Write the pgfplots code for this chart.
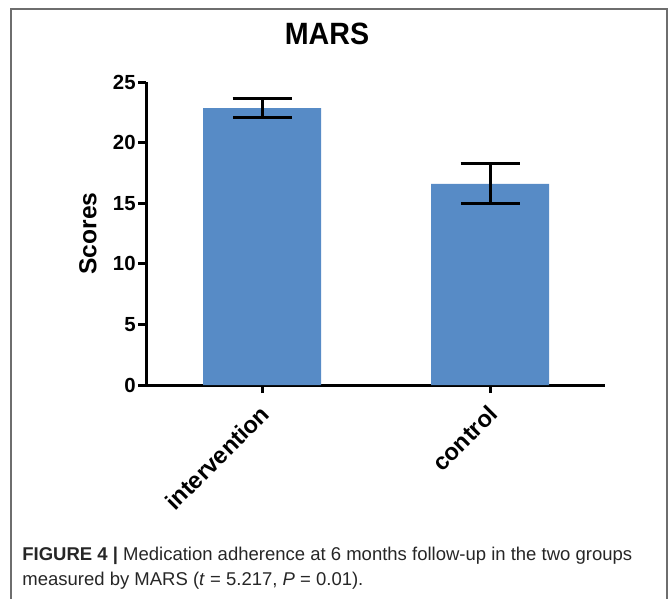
\documentclass[border=0pt]{standalone}
\usepackage{pgfplots}
\pgfplotsset{compat=1.18}
\usepackage{fontspec}
\setmainfont{Liberation Sans}
\newfontfamily\titlefont[FakeStretch=0.93]{Liberation Sans}
\definecolor{barblue}{RGB}{87,139,198}
\definecolor{framegray}{RGB}{110,110,110}
\begin{document}
\begin{tikzpicture}
\path[use as bounding box] (0,0) rectangle (336pt,-299pt);
\draw[framegray, line width=0.7pt] (5.5pt,-4.5pt) rectangle (333.5pt,-320pt);
\begin{axis}[
  at={(73pt,-192.5pt)}, anchor=south west,
  scale only axis, width=229.5pt, height=151.5pt,
  xmin=-0.509, xmax=1.504, ymin=0, ymax=25,
  axis x line*=bottom, axis y line*=left,
  axis line style={line width=1.5pt, black, -},
  xtick={0,1}, xticklabels={intervention,control},
  ytick={0,5,10,15,20,25},
  tick align=outside, major tick length=4pt,
  tick style={line width=1.5pt, black},
  /pgf/number format/assume math mode=true,
  yticklabel style={font=\bfseries\fontsize{10.2}{12}\selectfont, inner sep=1pt},
  xticklabel style={font=\bfseries\fontsize{11.8}{13}\selectfont, rotate=45, anchor=east, inner sep=2pt, xshift=-2.8pt, yshift=-7pt},
  ylabel={Scores},
  ylabel style={font=\bfseries\fontsize{12.3}{14}\selectfont, at={(axis description cs:-0.1264,0.5)}, anchor=center},
]
\addplot[ybar, bar width=59pt, fill=barblue, draw=none,
  error bars/.cd, y dir=both, y explicit,
  error bar style={line width=1.5pt, black},
  error mark options={rotate=90, mark size=14.75pt, line width=1.5pt, black}]
  coordinates {(0,22.85) +- (0,0.75) (1,16.6) +- (0,1.65)};
\end{axis}
\node[font=\titlefont\bfseries\fontsize{15.4}{18}\selectfont] at (163.5pt,-17pt) {MARS};
\node[anchor=base west, inner sep=0pt, text=black!85, font=\fontsize{9.25}{10}\selectfont] at (11pt,-280pt) {\textbf{FIGURE 4 |} Medication adherence at 6 months follow-up in the two groups};
\node[anchor=base west, inner sep=0pt, text=black!85, font=\fontsize{9.25}{10}\selectfont] at (11pt,-292.5pt) {measured by MARS (\textit{t} = 5.217, \textit{P} = 0.01).};
\end{tikzpicture}
\end{document}
